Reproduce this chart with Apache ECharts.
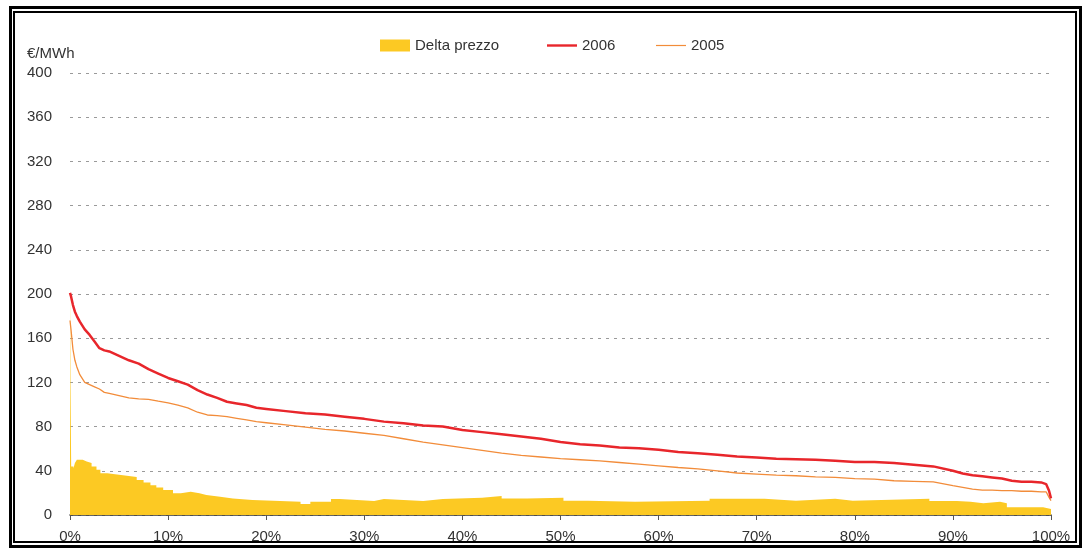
<!DOCTYPE html>
<html>
<head>
<meta charset="utf-8">
<script src="https://cdn.jsdelivr.net/npm/echarts@6/dist/echarts.min.js"></script>
<style>
html,body{margin:0;padding:0;background:#fff;}
#chart{width:1085px;height:552px;}
</style>
</head>
<body>
<div id="chart"></div>
<script>
// Duration curve: share of hours (%) vs price (€/MWh)
const pctLines = [0, 0.1, 0.3, 0.5, 0.7, 1, 1.5, 2, 2.5, 3, 3.5, 4, 5, 6, 7, 8, 9, 10, 11, 12, 13, 14, 15, 16, 17, 18, 19, 20, 22, 24, 26, 28, 30, 32, 34, 36, 38, 40, 42, 44, 46, 48, 50, 52, 54, 56, 58, 60, 62, 64, 66, 68, 70, 72, 74, 76, 78, 80, 82, 84, 86, 88, 90, 91, 92, 93, 94, 95, 96, 97, 98, 99, 99.5, 99.8, 100];
const price2006 = [201, 198, 190, 184, 180, 175, 168, 163, 157, 151, 149, 148, 144, 140, 137, 132, 128, 124, 121, 118, 113, 109, 106, 102.5, 101, 99.5, 97, 96, 94, 92, 91, 89, 87, 84.5, 83, 81, 80, 77, 75, 73, 71, 69, 66, 64, 63, 61, 60.5, 59, 57, 55.8, 54.5, 53, 52, 51, 50.5, 50, 49, 48, 48, 47, 45.5, 44, 40, 37.5, 36, 35, 34, 33, 31, 30, 30, 29.5, 28, 22, 15];
const price2005 = [176, 168, 150, 140, 134, 127, 120, 118, 116, 114, 111, 110, 108, 106, 105, 104.7, 103, 101.5, 99.5, 97, 93, 90.5, 90, 89, 87.5, 86, 84.5, 83.5, 81.5, 79.5, 77.5, 76, 74, 72, 69, 66, 63.5, 61, 58.5, 56, 54, 52.5, 51, 50, 49, 47.5, 46, 44.5, 43, 41.8, 40, 38, 37, 36, 35.5, 34.5, 34, 33, 32.5, 31, 30.5, 30, 26.5, 25, 23.5, 22.5, 22.5, 22, 22, 21.5, 21.5, 21, 21, 16, 13];
const pctDelta = [0, 0.05, 0.12, 0.35, 0.5, 0.7, 1.3, 1.7, 2.2, 2.7, 3.1, 3.8, 5.2, 5.8, 6.8, 7.5, 8.2, 8.8, 9.5, 10.5, 11.3, 12.3, 13.2, 13.9, 15.3, 16.6, 18.6, 23.5, 24.5, 26.6, 27.5, 31, 32, 36, 38, 42, 44, 46.6, 50.3, 52.8, 57.6, 65.2, 70.8, 74, 78, 79.8, 87.6, 90.4, 91.8, 93.1, 94.8, 95.5, 99.2, 100];
const deltaPrezzo = [206, 118, 44, 42, 47, 50, 48.5, 47, 44, 41, 37.7, 36.2, 35.5, 34.5, 31.7, 29.5, 27, 25, 22.6, 19.6, 21, 19.6, 18, 16.6, 15, 13.6, 12, 10, 12, 14.5, 12.7, 14.5, 12.7, 14.5, 15.7, 17.2, 15, 15.7, 12.9, 12, 12.9, 14.8, 13, 14.8, 13, 14.8, 12.7, 12, 10.6, 12, 10.6, 7, 5.4, 5.4];
const yTicks = [0, 40, 80, 120, 160, 200, 240, 280, 320, 360, 400];
const seriesNames = ['Delta prezzo', '2006', '2005'];
const unitLabel = '€/MWh';

const zip = (xs, ys) => xs.map((x, i) => [x, ys[i]]);
const font = 'Liberation Sans, Arial, sans-serif';
const txt = '#333333';
const lineIconThick = 'path://M0,0 M0,12 M0,4.8 L30,4.8 L30,7.2 L0,7.2 Z';
const lineIconThin = 'path://M0,0 M0,12 M0,5.4 L30,5.4 L30,6.6 L0,6.6 Z';
const legendText = {fontFamily: font, fontSize: 15, color: txt};

const chart = echarts.init(document.getElementById('chart'), null, {renderer: 'canvas'});
chart.setOption({
  animation: false,
  backgroundColor: '#ffffff',
  grid: {left: 70, right: 34, top: 73, bottom: 37, containLabel: false},
  legend: [
    {left: 375, top: 33, itemWidth: 30, itemHeight: 12, textStyle: legendText,
     data: [{name: seriesNames[0], icon: 'rect'}]},
    {left: 542, top: 33, itemWidth: 30, itemHeight: 12, textStyle: legendText,
     data: [{name: seriesNames[1], icon: lineIconThick}]},
    {left: 651, top: 33, itemWidth: 30, itemHeight: 12, textStyle: legendText,
     data: [{name: seriesNames[2], icon: lineIconThin}]}
  ],
  xAxis: {
    type: 'value', min: 0, max: 100, interval: 10,
    axisLine: {show: true, lineStyle: {color: '#333', width: 1.5}},
    axisTick: {show: true, length: 5, lineStyle: {color: '#555'}},
    axisLabel: {formatter: '{value}%', fontFamily: font, fontSize: 15, color: txt, margin: 14},
    splitLine: {show: false}
  },
  yAxis: {
    type: 'value', min: yTicks[0], max: yTicks[yTicks.length - 1], interval: yTicks[1] - yTicks[0],
    axisLine: {show: false}, axisTick: {show: false},
    axisLabel: {fontFamily: font, fontSize: 15, color: txt, margin: 18},
    splitLine: {show: true, lineStyle: {color: '#9a9a9a', type: [3, 5], width: 1}}
  },
  graphic: [
    {type: 'rect', shape: {x: 10.5, y: 7.5, width: 1070, height: 539}, style: {fill: null, stroke: '#000', lineWidth: 3}, silent: true},
    {type: 'rect', shape: {x: 14, y: 12, width: 1062, height: 530}, style: {fill: null, stroke: '#000', lineWidth: 2}, silent: true},
    {type: 'text', left: 27, top: 46, style: {text: unitLabel, font: '15px ' + font, fill: txt}}
  ],
  series: [
    {name: seriesNames[0], type: 'line', step: 'end', symbol: 'none', data: zip(pctDelta, deltaPrezzo),
     lineStyle: {width: 0}, itemStyle: {color: '#fcc923'}, areaStyle: {color: '#fcc923', opacity: 1}, z: 1},
    {name: seriesNames[1], type: 'line', symbol: 'none', data: zip(pctLines, price2006),
     lineStyle: {width: 2.5, color: '#e8262b'}, itemStyle: {color: '#e8262b'}, z: 3},
    {name: seriesNames[2], type: 'line', symbol: 'none', data: zip(pctLines, price2005),
     lineStyle: {width: 1.3, color: '#f28c3a'}, itemStyle: {color: '#f28c3a'}, z: 2}
  ]
});
</script>
</body>
</html>
